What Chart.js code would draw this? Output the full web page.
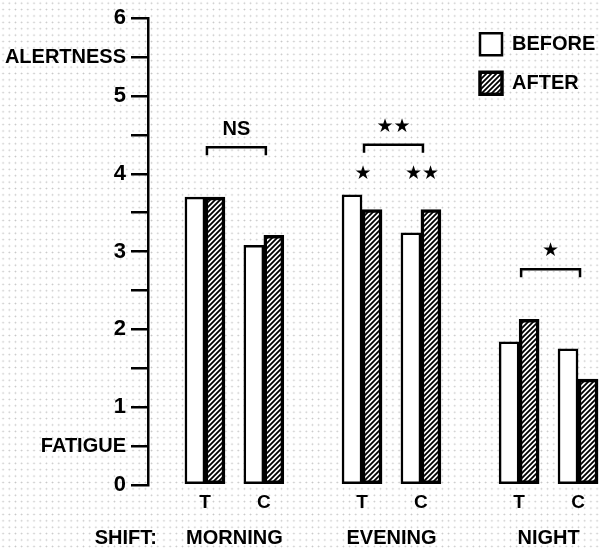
<!DOCTYPE html>
<html>
<head>
<meta charset="utf-8">
<script src="https://cdn.jsdelivr.net/npm/chart.js@4/dist/chart.umd.min.js"></script>
<style>
html, body { margin: 0; padding: 0; background: #fff; }
body {
  width: 601px; height: 549px; overflow: hidden;
  background-image: radial-gradient(circle at center, #c4c4c4 0, #c4c4c4 0.6px, rgba(255,255,255,0) 1.1px);
  background-size: 6.2px 6.4px;
}
#wrap { position: relative; width: 601px; height: 549px; }
</style>
</head>
<body>
<div id="wrap"><canvas id="c" width="601" height="549"></canvas></div>
<script>
// ---- data ----
const shifts = ['MORNING', 'EVENING', 'NIGHT'];
const groups = ['T', 'C'];
const seriesLabels = ['BEFORE', 'AFTER'];
const beforeValues = [3.70, 3.08, 3.73, 3.24, 1.84, 1.75];
const afterValues  = [3.70, 3.21, 3.54, 3.54, 2.13, 1.36];
const yWordValues = [0.5, 5.5];
const yWordLabels = ['FATIGUE', 'ALERTNESS'];
const shiftSignificance = ['NS', '**', '*'];
const barSignificance = ['', '', '*', '**', '', ''];
const shiftAxisTitle = 'SHIFT:';

// ---- helpers ----
const FONT = "'Liberation Sans', Arial, Helvetica, sans-serif";
const slot = (s, g) => s * 8 + g * 3;
const slots = [];
const slotLabels = [];
shifts.forEach((s, i) => groups.forEach((g, j) => { slots.push(slot(i, j)); slotLabels.push(g); }));
const shiftCenters = shifts.map((s, i) => (slot(i, 0) + slot(i, groups.length - 1)) / 2);

const canvas = document.getElementById('c');
const ctx = canvas.getContext('2d');

function makeHatch() {
  const c = document.createElement('canvas');
  c.width = 5; c.height = 5;
  const g = c.getContext('2d');
  g.fillStyle = '#fff'; g.fillRect(0, 0, 5, 5);
  g.strokeStyle = '#000'; g.lineWidth = 1.8;
  g.beginPath();
  g.moveTo(-1, 6); g.lineTo(6, -1);
  g.moveTo(-1, 1); g.lineTo(1, -1);
  g.moveTo(4, 6); g.lineTo(6, 4);
  g.stroke();
  return ctx.createPattern(c, 'repeat');
}

function drawSig(c, text, x, y) {
  if (!text) return;
  if (/^\*+$/.test(text)) {
    c.font = "19px 'DejaVu Sans', sans-serif";
    text = text.replace(/\*/g, '\u2605');
  } else {
    c.font = 'bold 20px ' + FONT;
  }
  c.textAlign = 'center';
  c.textBaseline = 'middle';
  c.fillText(text, x, y);
}

const annotations = {
  id: 'annotations',
  afterDatasetsDraw(chart) {
    const c = chart.ctx;
    const x = chart.scales.x, y = chart.scales.y;
    c.save();
    c.strokeStyle = '#000';
    c.fillStyle = '#000';
    c.lineWidth = 2.5;
    shifts.forEach((s, i) => {
      const idx = [i * 2, i * 2 + 1];
      const top = Math.max(...idx.map(k => beforeValues[k]), ...idx.map(k => afterValues[k]));
      const topPx = y.getPixelForValue(top);
      const xa = x.getPixelForValue(slot(i, 0)) + 2;
      const xb = x.getPixelForValue(slot(i, 1)) + 2;
      const yb = topPx - 50;
      c.beginPath();
      c.moveTo(xa, yb + 8); c.lineTo(xa, yb); c.lineTo(xb, yb); c.lineTo(xb, yb + 8);
      c.stroke();
      drawSig(c, shiftSignificance[i], (xa + xb) / 2, yb - 18);
      groups.forEach((g, j) => {
        drawSig(c, barSignificance[i * 2 + j], x.getPixelForValue(slot(i, j)) + 1, topPx - 21);
      });
    });
    // axis title for shifts
    const x2 = chart.scales.x2;
    c.font = 'bold 20px ' + FONT;
    c.textAlign = 'right';
    c.textBaseline = 'middle';
    c.fillText(shiftAxisTitle, chart.chartArea.left + 9, x2.top + x2.options.ticks.padding + 12);
    c.restore();
  }
};

const legendPlacer = {
  id: 'legendPlacer',
  afterLayout(chart) {
    const lg = chart.legend;
    if (!lg) return;
    const w = lg.width;
    lg.left = chart.chartArea.right - 138;
    lg.right = lg.left + w;
    lg.top = chart.chartArea.top - 2;
  }
};

const hatch = makeHatch();

new Chart(ctx, {
  type: 'bar',
  data: {
    datasets: [
      {
        label: seriesLabels[0],
        data: beforeValues.map((v, k) => ({ x: slots[k], y: v })),
        backgroundColor: '#fff',
        borderColor: '#000',
        borderWidth: 2.5,
        borderSkipped: false,
        barThickness: 20
      },
      {
        label: seriesLabels[1],
        data: afterValues.map((v, k) => ({ x: slots[k], y: v })),
        backgroundColor: hatch,
        borderColor: '#000',
        borderWidth: 3.5,
        borderSkipped: false,
        barThickness: 20
      }
    ]
  },
  options: {
    responsive: false,
    animation: false,
    layout: { padding: { top: 15, right: 0, left: 0, bottom: 0 } },
    plugins: {
      legend: {
        position: 'chartArea',
        align: 'start',
        labels: {
          boxWidth: 22, boxHeight: 22, padding: 17, color: '#000',
          font: { family: FONT, size: 20, weight: 'bold' }
        }
      },
      tooltip: { enabled: false }
    },
    scales: {
      x: {
        type: 'linear', position: 'bottom', min: -2.9, max: 20.17, offset: false,
        grid: { display: false, drawTicks: false },
        border: { display: false },
        afterBuildTicks: s => { s.ticks = slots.map(v => ({ value: v })); },
        ticks: {
          autoSkip: false, maxRotation: 0, minRotation: 0, padding: 6, color: '#000',
          font: { family: FONT, size: 19, weight: 'bold' },
          callback: (v, i) => slotLabels[i]
        },
        afterFit: s => { s.height = 30; }
      },
      x2: {
        type: 'linear', position: 'bottom', min: -2.9, max: 20.17, offset: false,
        grid: { display: false, drawTicks: false },
        border: { display: false },
        afterBuildTicks: s => { s.ticks = shiftCenters.map(v => ({ value: v })); },
        ticks: {
          autoSkip: false, maxRotation: 0, minRotation: 0, padding: 11, color: '#000',
          font: { family: FONT, size: 20, weight: 'bold' },
          callback: (v, i) => shifts[i]
        },
        afterFit: s => { s.height = 34; }
      },
      y: {
        min: 0, max: 6,
        ticks: {
          stepSize: 0.5, autoSkip: false, padding: 5, color: '#000',
          font: c => ({ family: FONT, weight: 'bold',
            size: (c.tick && Number.isInteger(c.tick.value)) ? 22 : 20 }),
          callback: v => {
            if (Number.isInteger(v)) return String(v);
            const w = yWordValues.indexOf(v);
            return w >= 0 ? yWordLabels[w] : '';
          }
        },
        grid: { drawOnChartArea: false, drawTicks: true, tickLength: 17, color: '#000', lineWidth: 2.5 },
        border: { display: true, color: '#000', width: 2.5 },
        afterFit: s => { s.width = 148; }
      }
    }
  },
  plugins: [annotations, legendPlacer]
});
</script>
</body>
</html>
